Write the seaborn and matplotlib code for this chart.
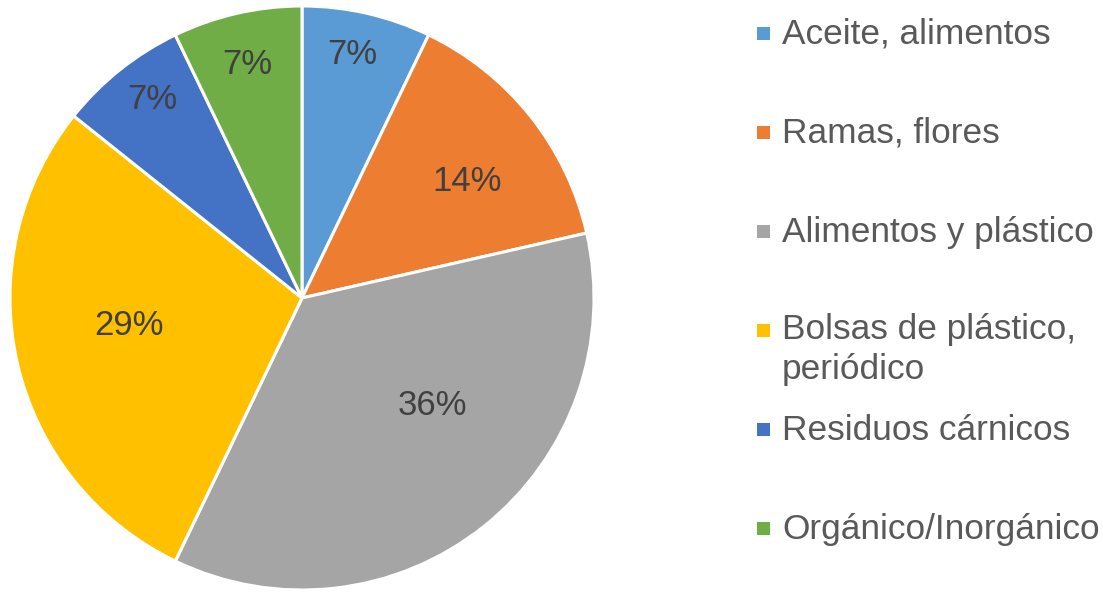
import numpy as np
import matplotlib
matplotlib.use('Agg')
import matplotlib.pyplot as plt
from matplotlib.patches import Rectangle
import seaborn as sns

# data (counts read as 1:2:5:4:1:1 -> 7%, 14%, 36%, 29%, 7%, 7%)
categories = ['Aceite, alimentos', 'Ramas, flores', 'Alimentos y plástico',
              'Bolsas de plástico,\nperiódico', 'Residuos cárnicos', 'Orgánico/Inorgánico']
counts = [1, 2, 5, 4, 1, 1]
colors = ['#5B9BD5', '#ED7D31', '#A5A5A5', '#FFC000', '#4472C4', '#70AD47']

# where Excel put the percentage labels (radius fraction, angle clockwise from top)
label_r = [0.85, 0.69, 0.58, 0.60, 0.85, 0.82]
label_ang = [11.6, 54.8, 129.5, 261.0, 323.0, 346.7]

sns.set_theme(style='white')
plt.rcParams['font.family'] = ['Liberation Sans', 'DejaVu Sans']

W, H = 1103, 592
fig = plt.figure(figsize=(W / 100, H / 100), dpi=100)

# pie: centre (302, 298) px, radius 292 px
cx, cy, r = 302, 298, 292
ax = fig.add_axes([(cx - r) / W, (H - cy - r) / H, 2 * r / W, 2 * r / H])
wedges, texts, autotexts = ax.pie(
    counts, colors=colors, startangle=90, counterclock=False,
    autopct='%.0f%%', radius=1,
    wedgeprops=dict(edgecolor='white', linewidth=2.2),
    textprops=dict(fontsize=25, color='#404040'))
ax.set_xlim(-1, 1)
ax.set_ylim(-1, 1)
ax.set_aspect('equal')
ax.axis('off')

for t, rr, a in zip(autotexts, label_r, label_ang):
    th = np.deg2rad(a)
    t.set_position((rr * np.sin(th), rr * np.cos(th)))
    t.set_va('center')
    t.set_ha('center')

# legend, laid out like the Excel one (fixed slots)
for i, (lab, col) in enumerate(zip(categories, colors)):
    base = 43.5 + 99 * i
    fig.add_artist(Rectangle((757 / W, 1 - (base - 4) / H), 13 / W, 13 / H,
                             transform=fig.transFigure, facecolor=col, edgecolor='none'))
    # baseline alignment goes to the last line, so shift multi-line labels down
    last = base + 38 * lab.count('\n')
    fig.text(782 / W, 1 - last / H, lab, fontsize=25.4, color='#595959',
             va='baseline', ha='left', linespacing=1.25)

plt.savefig('out.png', dpi=100)
